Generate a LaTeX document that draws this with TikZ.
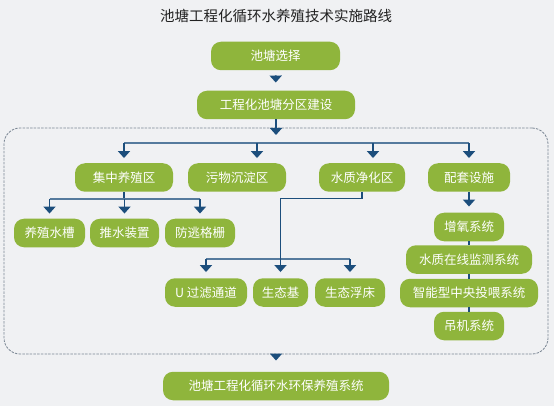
\documentclass[tikz,border=0pt]{standalone}
\usepackage{fontspec}
\setmainfont{Noto Sans CJK SC}
\usetikzlibrary{arrows.meta,positioning}
\definecolor{pondgreen}{HTML}{8FB53C}
\definecolor{navy}{HTML}{1C4E7C}
\definecolor{paper}{HTML}{F0F1F3}
\definecolor{framegrey}{HTML}{7B8794}
\definecolor{titlegrey}{HTML}{222222}
\tikzset{
  greenbox/.style={fill=pondgreen, rounded corners=10pt, text=white, inner sep=0pt,
    minimum height=28.5pt, font=\fontsize{12.5}{14}\selectfont},
  arr/.style={-{Triangle[width=12pt,length=7pt]}, line width=1.8pt, draw=navy, shorten >=5pt},
  bar/.style={line width=1.4pt, draw=navy!75},
  link/.style={line width=1.6pt, draw=navy},
  framebox/.style={draw=framegrey, line width=0.8pt, dash pattern=on 2.5pt off 1.2pt,
    rounded corners=16pt, inner sep=0pt}
}
\begin{document}
\begin{tikzpicture}[x=1pt,y=-1pt]
  \fill[paper] (0,0) rectangle (554,406);
  \useasboundingbox (0,0) rectangle (554,406);
  \node[font=\fontsize{14.5}{16}\selectfont, text=titlegrey] (title) at (276,16) {池塘工程化循环水养殖技术实施路线};
  % top of the route
  \node[greenbox, minimum width=129pt] (pick) at (275.5,56) {池塘选择};
  \node[greenbox, minimum width=158pt] (zone) at (276,105) {工程化池塘分区建设};
  \node[framebox, minimum width=544pt, minimum height=226pt] (frame) at (276,241) {};
  \coordinate (hub) at (276,135);
  \draw[arr, shorten <=5pt, shorten >=8pt] (pick) -- (zone);
  \draw[arr, shorten >=0pt] (zone) -- (hub);
  % four zones
  \foreach \n/\x/\w/\lab in {jz/124/98/集中养殖区, ww/237/98/污物沉淀区, sz/362/86/水质净化区, pt/469/82/配套设施} {
    \node[greenbox, minimum width=\w pt] (\n) at (\x,177.5) {\lab};
  }
  \coordinate (b2) at (276,143);
  \draw[bar] (jz.north |- b2) -- (pt.north |- b2);
  \draw[arr] (jz.north |- b2) -- (jz.north);
  \draw[arr] ([xshift=20pt]ww.north |- b2) -- ([xshift=20pt]ww.north);
  \draw[arr] ([xshift=11pt]sz.north |- b2) -- ([xshift=11pt]sz.north);
  \draw[arr] (pt.north |- b2) -- (pt.north);
  % culture zone
  \foreach \n/\x/\w/\lab in {cs/49.5/71/养殖水槽, ts/124.5/69/推水装置, ft/200/70/防逃格栅} {
    \node[greenbox, minimum width=\w pt] (\n) at (\x,233) {\lab};
  }
  \coordinate (j3) at (124,199);
  \draw[link] (jz.south) -- (j3);
  \draw[bar] (cs.north |- j3) -- (ft.north |- j3);
  \foreach \n in {cs,ts,ft} {
    \draw[arr] (\n.north |- j3) -- (\n.north);
  }
  % purification zone
  \foreach \n/\x/\w/\lab in {ug/206/82/U 过滤通道, st/280.5/55/生态基, fc/350/70/生态浮床} {
    \node[greenbox, minimum width=\w pt] (\n) at (\x,292.5) {\lab};
  }
  \coordinate (k4) at (280.5,198.5);
  \coordinate (b4) at (280,259);
  \draw[bar] (ug.north |- b4) -- (fc.north |- b4);
  \draw[arr, line width=1.6pt, shorten >=6pt] (sz.south) |- (k4) -- (st.north);
  \draw[arr, shorten >=6pt] (ug.north |- b4) -- (ug.north);
  \draw[arr, shorten >=6pt] (fc.north |- b4) -- (fc.north);
  % supporting facilities
  \foreach \n/\y/\w/\lab in {zy/227/70/增氧系统, jc/259.5/126/水质在线监测系统, tw/293/138/智能型中央投喂系统, dj/326/70/吊机系统} {
    \node[greenbox, minimum width=\w pt] (\n) at (469,\y) {\lab};
  }
  \draw[arr, shorten >=6pt] (pt) -- (zy);
  \draw[link] (zy) -- (jc);
  \draw[link] (jc) -- (tw);
  \draw[link] (tw) -- (dj);
  % result
  \node[greenbox, minimum width=226pt] (final) at (276,386) {池塘工程化循环水环保养殖系统};
  \draw[arr, shorten >=11pt] (frame.south) -- (final);
\end{tikzpicture}
\end{document}
